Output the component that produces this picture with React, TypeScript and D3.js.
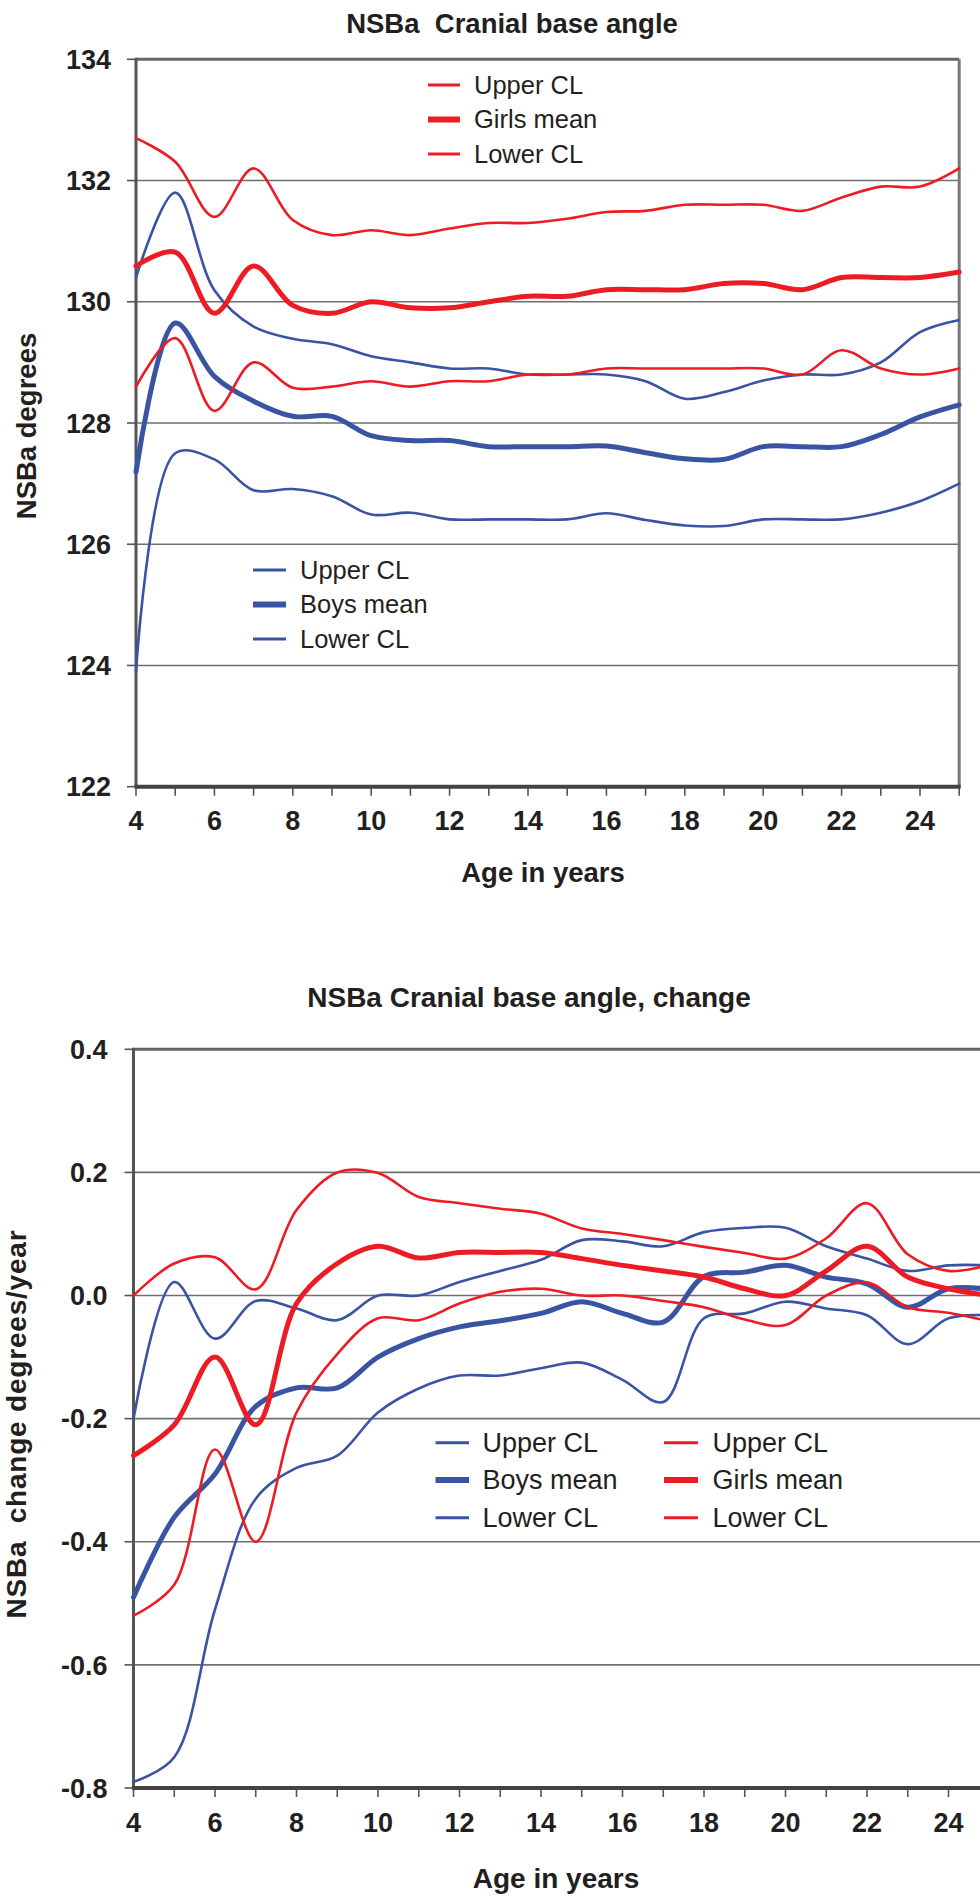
import React from 'react';
import * as d3 from 'd3';

// ---------- DATA ----------
const ages = [4, 5, 6, 7, 8, 9, 10, 11, 12, 13, 14, 15, 16, 17, 18, 19, 20, 21, 22, 23, 24, 25];

// Top chart: NSBa (degrees)
const girlsUpper = [132.7, 132.31, 131.4, 132.2, 131.35, 131.1, 131.18, 131.1, 131.21, 131.3, 131.3, 131.37, 131.48, 131.5, 131.6, 131.6, 131.6, 131.5, 131.72, 131.9, 131.9, 132.2];
const girlsMean = [130.59, 130.82, 129.81, 130.59, 129.94, 129.81, 130.0, 129.9, 129.9, 130.0, 130.09, 130.09, 130.2, 130.2, 130.2, 130.3, 130.3, 130.2, 130.4, 130.4, 130.4, 130.49];
const girlsLower = [128.6, 129.4, 128.2, 129.0, 128.58, 128.6, 128.69, 128.6, 128.69, 128.69, 128.8, 128.8, 128.9, 128.9, 128.9, 128.9, 128.9, 128.8, 129.2, 128.9, 128.8, 128.9];
const boysUpper = [130.4, 131.8, 130.19, 129.59, 129.39, 129.3, 129.1, 129.0, 128.9, 128.9, 128.8, 128.8, 128.8, 128.69, 128.4, 128.51, 128.7, 128.8, 128.8, 129.0, 129.5, 129.7];
const boysMean = [127.19, 129.65, 128.77, 128.36, 128.11, 128.11, 127.79, 127.71, 127.71, 127.61, 127.61, 127.61, 127.62, 127.51, 127.41, 127.4, 127.61, 127.61, 127.61, 127.81, 128.1, 128.3];
const boysLower = [123.9, 127.5, 127.4, 126.89, 126.91, 126.79, 126.49, 126.52, 126.41, 126.41, 126.41, 126.41, 126.51, 126.4, 126.31, 126.3, 126.41, 126.41, 126.41, 126.52, 126.71, 127.0];

// Bottom chart: change (degrees/year)
const girlsUpperChg = [0.0, 0.052, 0.062, 0.01, 0.139, 0.2, 0.199, 0.16, 0.15, 0.141, 0.133, 0.109, 0.1, 0.09, 0.079, 0.069, 0.06, 0.093, 0.15, 0.067, 0.04, 0.05];
const girlsMeanChg = [-0.26, -0.21, -0.1, -0.21, -0.013, 0.052, 0.08, 0.061, 0.07, 0.07, 0.07, 0.06, 0.049, 0.04, 0.03, 0.011, 0.0, 0.04, 0.08, 0.03, 0.011, 0.0];
const girlsLowerChg = [-0.52, -0.47, -0.25, -0.4, -0.19, -0.095, -0.037, -0.04, -0.013, 0.006, 0.011, 0.0, 0.0, -0.009, -0.019, -0.039, -0.048, 0.0, 0.021, -0.019, -0.028, -0.042];
const boysUpperChg = [-0.2, 0.022, -0.07, -0.009, -0.021, -0.04, 0.0, 0.0, 0.022, 0.04, 0.058, 0.09, 0.088, 0.08, 0.103, 0.11, 0.11, 0.08, 0.06, 0.04, 0.049, 0.049];
const boysMeanChg = [-0.49, -0.36, -0.29, -0.18, -0.15, -0.15, -0.1, -0.07, -0.051, -0.041, -0.029, -0.01, -0.029, -0.043, 0.031, 0.038, 0.049, 0.03, 0.019, -0.019, 0.011, 0.01];
const boysLowerChg = [-0.79, -0.75, -0.51, -0.33, -0.28, -0.26, -0.19, -0.151, -0.13, -0.13, -0.118, -0.109, -0.137, -0.173, -0.037, -0.029, -0.01, -0.021, -0.032, -0.079, -0.037, -0.032];

const topYTicks = [122, 124, 126, 128, 130, 132, 134];
const botYTicks = [-0.8, -0.6, -0.4, -0.2, 0.0, 0.2, 0.4];
const botYLabels = ['-0.8', '-0.6', '-0.4', '-0.2', '0.0', '0.2', '0.4'];
const xLabelAges = [4, 6, 8, 10, 12, 14, 16, 18, 20, 22, 24];

const legendBoys = ['Upper CL', 'Boys mean', 'Lower CL'];
const legendGirls = ['Upper CL', 'Girls mean', 'Lower CL'];

// ---------- STYLE ----------
const RED = '#ED1C24';
const BLUE = '#3A54A4';
const TXT = '#231F20';
const FONT = '"Liberation Sans", Arial, Helvetica, sans-serif';

type Series = { values: number[]; color: string; width: number };

function Lines({ series, x, y }: { series: Series[]; x: d3.ScaleLinear<number, number>; y: d3.ScaleLinear<number, number> }) {
  const gen = d3
    .line<number>()
    .x((_, i) => x(ages[i]))
    .y((d) => y(d))
    .curve(d3.curveCatmullRom.alpha(0.5));
  return (
    <g>
      {series.map((s, k) => (
        <path key={k} d={gen(s.values) || ''} fill="none" stroke={s.color} strokeWidth={s.width} strokeLinejoin="round" strokeLinecap="round" />
      ))}
    </g>
  );
}

function Legend({ items, color, x0, x1, tx, ys, fs }: { items: string[]; color: string; x0: number; x1: number; tx: number; ys: number[]; fs: number }) {
  return (
    <g>
      {items.map((t, i) => (
        <g key={i}>
          <line x1={x0} x2={x1} y1={ys[i]} y2={ys[i]} stroke={color} strokeWidth={i === 1 ? 6 : 3} />
          <text x={tx} y={ys[i]} dy="0.35em" fontSize={fs} fill={TXT} fontFamily={FONT}>
            {t}
          </text>
        </g>
      ))}
    </g>
  );
}

function Axes({
  x, y, yTicks, yLabels, left, right, top, bottom, labelRight, xLabelBase, drawRight,
}: {
  x: d3.ScaleLinear<number, number>; y: d3.ScaleLinear<number, number>; yTicks: number[]; yLabels: string[];
  left: number; right: number; top: number; bottom: number; labelRight: number; xLabelBase: number; drawRight: boolean;
}) {
  return (
    <g>
      {yTicks.map((t, i) => (
        <g key={i}>
          {i > 0 && i < yTicks.length - 1 && (
            <line x1={left} x2={right} y1={y(t)} y2={y(t)} stroke="#6f6f6f" strokeWidth={1.6} />
          )}
          <line x1={left - 9} x2={left} y1={y(t)} y2={y(t)} stroke="#555" strokeWidth={1.6} />
          <text x={labelRight} y={y(t)} dy="0.36em" textAnchor="end" fontSize={27} fontWeight="bold" fill={TXT} fontFamily={FONT}>
            {yLabels[i]}
          </text>
        </g>
      ))}
      {/* frame */}
      <line x1={left} x2={right} y1={top} y2={top} stroke="#666" strokeWidth={3} />
      {drawRight && <line x1={right} x2={right} y1={top} y2={bottom} stroke="#777" strokeWidth={3} />}
      <line x1={left} x2={left} y1={top - 1.5} y2={bottom} stroke="#555" strokeWidth={3} />
      {ages.map((a) => (
        <line key={a} x1={x(a)} x2={x(a)} y1={bottom} y2={bottom + 9} stroke="#555" strokeWidth={1.6} />
      ))}
      <line x1={left - 1.5} x2={right + 1.5} y1={bottom} y2={bottom} stroke="#444" strokeWidth={4} />
      {xLabelAges.map((a) => (
        <text key={a} x={x(a)} y={xLabelBase} textAnchor="middle" fontSize={27} fontWeight="bold" fill={TXT} fontFamily={FONT}>
          {a}
        </text>
      ))}
    </g>
  );
}

export default function App() {
  // top chart scales
  const xT = d3.scaleLinear().domain([4, 25]).range([136, 959.2]);
  const yT = d3.scaleLinear().domain([122, 134]).range([786.7, 59.3]);
  // bottom chart scales
  const xB = d3.scaleLinear().domain([4, 25]).range([133.5, 989.25]);
  const yB = d3.scaleLinear().domain([-0.8, 0.4]).range([1788, 1049.3]);

  const topSeries: Series[] = [
    { values: boysUpper, color: BLUE, width: 2.6 },
    { values: boysLower, color: BLUE, width: 2.6 },
    { values: boysMean, color: BLUE, width: 5 },
    { values: girlsUpper, color: RED, width: 2.6 },
    { values: girlsLower, color: RED, width: 2.6 },
    { values: girlsMean, color: RED, width: 5 },
  ];
  const botSeries: Series[] = [
    { values: boysUpperChg, color: BLUE, width: 2.6 },
    { values: boysLowerChg, color: BLUE, width: 2.6 },
    { values: boysMeanChg, color: BLUE, width: 5 },
    { values: girlsUpperChg, color: RED, width: 2.6 },
    { values: girlsLowerChg, color: RED, width: 2.6 },
    { values: girlsMeanChg, color: RED, width: 5 },
  ];

  return (
    <svg width={980} height={1896} style={{ position: 'absolute', left: 0, top: 0, background: '#fff' }} fontFamily={FONT}>
      <rect x={0} y={0} width={980} height={1896} fill="#fff" />
      {/* ---------- TOP CHART ---------- */}
      <text x={512} y={32.5} textAnchor="middle" fontSize={27.5} fontWeight="bold" fill={TXT}>
        NSBa{'\u00A0\u00A0'}Cranial base angle
      </text>
      <Axes x={xT} y={yT} yTicks={topYTicks} yLabels={topYTicks.map(String)} left={136} right={959.2} top={59.3} bottom={786.7} labelRight={111} xLabelBase={829.5} drawRight={true} />
      <Lines series={topSeries} x={xT} y={yT} />
      <Legend items={legendGirls} color={RED} x0={428} x1={460} tx={474} ys={[85, 119.5, 154]} fs={25.5} />
      <Legend items={legendBoys} color={BLUE} x0={253} x1={286} tx={300} ys={[570, 604.5, 639]} fs={25.5} />
      <text x={543} y={882} textAnchor="middle" fontSize={27.5} fontWeight="bold" fill={TXT}>
        Age in years
      </text>
      <text transform="translate(36,426) rotate(-90)" textAnchor="middle" fontSize={27.5} fontWeight="bold" fill={TXT}>
        NSBa degrees
      </text>

      {/* ---------- BOTTOM CHART ---------- */}
      <text x={529} y={1007} textAnchor="middle" fontSize={28} fontWeight="bold" fill={TXT}>
        NSBa Cranial base angle, change
      </text>
      <Axes x={xB} y={yB} yTicks={botYTicks} yLabels={botYLabels} left={133.5} right={989.25} top={1049.3} bottom={1788} labelRight={107.5} xLabelBase={1832} drawRight={false} />
      <Lines series={botSeries} x={xB} y={yB} />
      <Legend items={legendBoys} color={BLUE} x0={435.5} x1={469} tx={482.5} ys={[1442.7, 1480, 1517.7]} fs={27} />
      <Legend items={legendGirls} color={RED} x0={664} x1={698} tx={712.5} ys={[1442.7, 1480, 1517.7]} fs={27} />
      <text x={556} y={1888} textAnchor="middle" fontSize={28} fontWeight="bold" fill={TXT}>
        Age in years
      </text>
      <text transform="translate(26,1424) rotate(-90)" textAnchor="middle" fontSize={28} fontWeight="bold" fill={TXT} letterSpacing={0.8}>
        NSBa{'\u00A0\u00A0'}change degrees/year
      </text>
    </svg>
  );
}
